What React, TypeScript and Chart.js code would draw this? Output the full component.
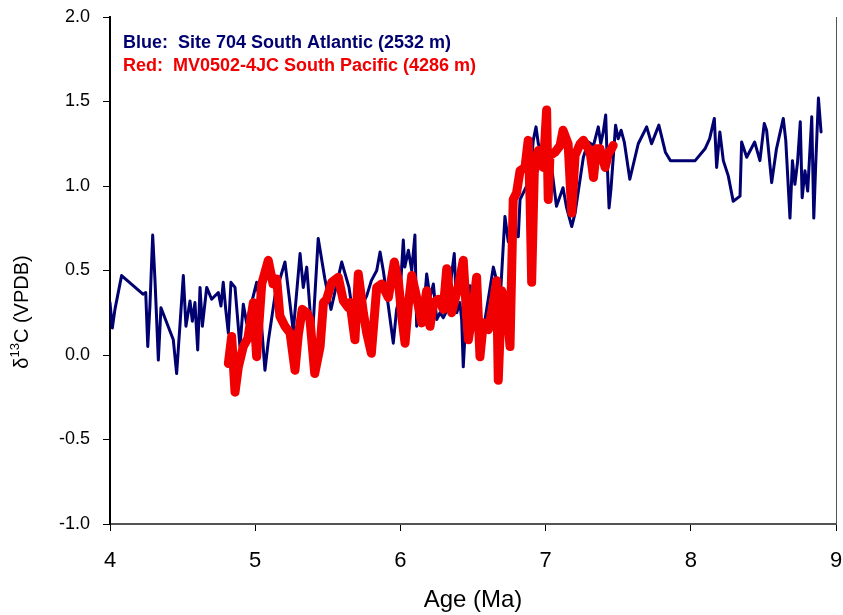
import React, { useEffect, useRef } from "react";
import { Chart, registerables } from "chart.js";

Chart.register(...registerables);

// Site 704 South Atlantic (blue)
const blueAge = [
  4.0, 4.016, 4.034, 4.08, 4.227, 4.246, 4.26, 4.275, 4.294, 4.31, 4.333, 4.351, 4.436, 4.459, 4.505,
  4.523, 4.551, 4.567, 4.585, 4.604, 4.62, 4.636, 4.666, 4.7, 4.746, 4.764, 4.78, 4.797, 4.815, 4.833,
  4.861, 4.895, 4.918, 4.941, 4.964, 5.01, 5.033, 5.067, 5.09, 5.136, 5.205, 5.24, 5.262, 5.309, 5.331,
  5.355, 5.393, 5.434, 5.48, 5.522, 5.596, 5.646, 5.665, 5.7, 5.733, 5.768, 5.8, 5.837, 5.86, 5.882,
  5.917, 5.951, 5.974, 5.997, 6.02, 6.03, 6.055, 6.078, 6.1, 6.112, 6.135, 6.158, 6.181, 6.204, 6.227,
  6.25, 6.273, 6.295, 6.33, 6.353, 6.371, 6.388, 6.41, 6.422, 6.433, 6.457, 6.48, 6.5, 6.55, 6.583,
  6.64, 6.663, 6.686, 6.72, 6.743, 6.766, 6.812, 6.824, 6.858, 6.893, 6.915, 6.934, 6.95, 6.973, 7.007,
  7.042, 7.053, 7.075, 7.12, 7.145, 7.18, 7.203, 7.26, 7.294, 7.33, 7.363, 7.38, 7.397, 7.414, 7.427,
  7.437, 7.45, 7.466, 7.482, 7.5, 7.52, 7.542, 7.58, 7.638, 7.696, 7.73, 7.78, 7.825, 7.86, 8.03,
  8.098, 8.13, 8.162, 8.178, 8.2, 8.224, 8.258, 8.292, 8.339, 8.35, 8.385, 8.44, 8.476, 8.506, 8.522,
  8.557, 8.59, 8.637, 8.654, 8.683, 8.7, 8.717, 8.735, 8.754, 8.767, 8.786, 8.805, 8.833, 8.847, 8.86,
  8.879, 8.897,
];
const blueD13C = [
  0.31, 0.16, 0.27, 0.47, 0.36, 0.37, 0.05, 0.29, 0.71, 0.44, -0.03, 0.28, 0.09, -0.11, 0.47,
  0.17, 0.32, 0.2, 0.31, 0.03, 0.4, 0.17, 0.4, 0.33, 0.37, 0.29, 0.43, 0.27, 0.13, 0.43,
  0.4, 0.05, 0.3, 0.19, 0.27, 0.43, 0.3, -0.09, 0.08, 0.35, 0.55, 0.3, 0.14, 0.6, 0.4,
  0.52, 0.09, 0.69, 0.45, 0.27, 0.55, 0.4, 0.29, 0.34, 0.29, 0.35, 0.44, 0.5, 0.61, 0.5,
  0.29, 0.07, 0.27, 0.35, 0.68, 0.52, 0.62, 0.5, 0.71, 0.17, 0.31, 0.23, 0.48, 0.34, 0.42,
  0.21, 0.25, 0.22, 0.28, 0.48, 0.6, 0.25, 0.31, 0.21, -0.07, 0.31, 0.41, 0.22, 0.11, 0.21,
  0.52, 0.44, 0.31, 0.82, 0.67, 0.73, 0.7, 0.92, 0.98, 1.04, 1.27, 1.35, 1.25, 1.19, 1.23,
  1.11, 1.03, 0.88, 0.99, 0.87, 0.76, 0.84, 1.17, 1.26, 1.24, 1.35, 1.25, 1.32, 1.42, 1.08,
  0.87, 0.98, 1.17, 1.36, 1.28, 1.33, 1.26, 1.04, 1.25, 1.35, 1.25, 1.36, 1.2, 1.15, 1.15,
  1.22, 1.28, 1.4, 1.11, 1.32, 1.15, 1.06, 0.91, 0.94, 1.26, 1.17, 1.26, 1.15, 1.37, 1.33,
  1.02, 1.22, 1.4, 1.27, 0.81, 1.15, 1.01, 1.14, 1.38, 0.93, 1.09, 0.97, 1.41, 0.81, 1.12,
  1.52, 1.32,
];

// MV0502-4JC South Pacific (red)
const redAge = [
  4.815, 4.838, 4.861, 4.884, 4.918, 4.95, 4.987, 5.01, 5.045, 5.09, 5.123, 5.148, 5.17, 5.205, 5.24,
  5.274, 5.297, 5.324, 5.355, 5.377, 5.41, 5.447, 5.47, 5.492, 5.527, 5.572, 5.607, 5.641, 5.653, 5.687,
  5.71, 5.745, 5.768, 5.8, 5.837, 5.871, 5.917, 5.958, 5.986, 6.009, 6.032, 6.054, 6.078, 6.112, 6.147,
  6.181, 6.204, 6.227, 6.261, 6.295, 6.319, 6.353, 6.4, 6.433, 6.457, 6.468, 6.49, 6.525, 6.548, 6.571,
  6.606, 6.64, 6.663, 6.674, 6.698, 6.732, 6.755, 6.777, 6.8, 6.824, 6.858, 6.88, 6.893, 6.904, 6.922,
  6.95, 6.984, 7.007, 7.018, 7.03, 7.065, 7.1, 7.12, 7.155, 7.18, 7.203, 7.238, 7.26, 7.294, 7.31,
  7.33, 7.35, 7.375, 7.41, 7.432, 7.466,
];
const redD13C = [
  -0.05, 0.11, -0.22, -0.07, 0.05, 0.1, 0.31, -0.01, 0.42, 0.56, 0.42, 0.45, 0.23, 0.17, 0.13,
  -0.09, 0.12, 0.27, 0.25, 0.21, -0.11, 0.05, 0.31, 0.33, 0.43, 0.46, 0.32, 0.28, 0.31, 0.09,
  0.48, 0.25, 0.13, 0.01, 0.4, 0.42, 0.34, 0.55, 0.44, 0.23, 0.07, 0.29, 0.47, 0.34, 0.19,
  0.38, 0.17, 0.31, 0.33, 0.27, 0.51, 0.25, 0.41, 0.56, 0.22, 0.09, 0.21, 0.46, -0.01, 0.19,
  0.15, 0.31, 0.44, -0.15, 0.38, 0.3, 0.05, 0.92, 0.96, 1.09, 1.11, 1.27, 0.92, 0.43, 1.08,
  1.21, 1.11, 1.45, 0.92, 1.18, 1.2, 1.24, 1.33, 1.25, 0.84, 1.18, 1.25, 1.27, 1.22, 1.18,
  1.05, 1.22, 1.22, 1.11, 1.19, 1.24,
];

const xTickValues = [4, 5, 6, 7, 8, 9];
const yTickValues = [-1.0, -0.5, 0.0, 0.5, 1.0, 1.5, 2.0];
const legendLines = [
  "Blue:  Site 704 South Atlantic (2532 m)",
  "Red:  MV0502-4JC South Pacific (4286 m)",
];
const xTitle = "Age (Ma)";

const BLUE = "#000070";
const RED = "#f00000";
const FONT = '"Liberation Sans", Arial, Helvetica, sans-serif';

const overlayPlugin = {
  id: "overlay",
  afterDraw(chart: any) {
    const { ctx, chartArea } = chart;
    ctx.save();
    // right frame line
    ctx.strokeStyle = "#555";
    ctx.lineWidth = 1;
    ctx.beginPath();
    ctx.moveTo(chartArea.right + 0.5, chartArea.top);
    ctx.lineTo(chartArea.right + 0.5, chartArea.bottom);
    ctx.stroke();

    // legend text
    ctx.font = `bold 18px ${FONT}`;
    ctx.textBaseline = "middle";
    ctx.textAlign = "left";
    ctx.fillStyle = BLUE;
    ctx.fillText(legendLines[0], chartArea.left + 13, chartArea.top + 26);
    ctx.fillStyle = RED;
    ctx.fillText(legendLines[1], chartArea.left + 13, chartArea.top + 49);

    // y title with superscript
    ctx.translate(chartArea.left - 88, chartArea.top + 295);
    ctx.rotate(-Math.PI / 2);
    ctx.fillStyle = "#000";
    const big = `20px ${FONT}`;
    const small = `13px ${FONT}`;
    const parts = [
      { t: "\u03b4", f: big, dy: 0 },
      { t: "13", f: small, dy: -7 },
      { t: "C (VPDB)", f: big, dy: 0 },
    ];
    let total = 0;
    for (const p of parts) {
      ctx.font = p.f;
      total += ctx.measureText(p.t).width;
    }
    let x = -total / 2;
    ctx.textBaseline = "middle";
    for (const p of parts) {
      ctx.font = p.f;
      ctx.fillText(p.t, x, p.dy);
      x += ctx.measureText(p.t).width;
    }
    ctx.restore();
  },
};

export default function App() {
  const canvasRef = useRef<HTMLCanvasElement | null>(null);

  useEffect(() => {
    document.body.style.margin = "0";
    const canvas = canvasRef.current;
    if (!canvas) return;
    const blueData = blueAge.map((a, i) => ({ x: a, y: blueD13C[i] }));
    const redData = redAge.map((a, i) => ({ x: a, y: redD13C[i] }));

    const chart = new Chart(canvas, {
      type: "scatter",
      data: {
        datasets: [
          {
            label: "Blue",
            data: blueData,
            showLine: true,
            borderColor: BLUE,
            backgroundColor: BLUE,
            borderWidth: 3,
            pointRadius: 0,
            borderJoinStyle: "round",
            borderCapStyle: "round",
            order: 1,
          },
          {
            label: "Red",
            data: redData,
            showLine: true,
            borderColor: RED,
            backgroundColor: RED,
            borderWidth: 9,
            pointRadius: 0,
            borderJoinStyle: "round",
            borderCapStyle: "round",
            order: 0,
          },
        ],
      },
      options: {
        responsive: false,
        animation: false,
        devicePixelRatio: 1,
        layout: { padding: { top: 17, right: 7, left: 0, bottom: 0 } },
        plugins: {
          legend: { display: false },
          tooltip: { enabled: false },
          title: { display: false },
        },
        scales: {
          x: {
            type: "linear",
            min: 4,
            max: 9,
            afterBuildTicks: (scale: any) => {
              scale.ticks = xTickValues.map((v) => ({ value: v }));
            },
            afterFit: (scale: any) => {
              scale.height = 91;
              scale.paddingLeft = 0;
              scale.paddingRight = 0;
            },
            ticks: {
              color: "#000",
              font: { family: FONT, size: 22 },
              padding: 17,
              callback: (v: any) => String(v),
            },
            grid: {
              drawOnChartArea: false,
              drawTicks: true,
              tickLength: 7,
              color: "#000",
            },
            border: { display: true, color: "#555", width: 2 },
            title: {
              display: true,
              text: xTitle,
              color: "#000",
              font: { family: FONT, size: 24 },
              padding: { top: 3, bottom: 0 },
            },
          },
          y: {
            type: "linear",
            min: -1,
            max: 2,
            afterBuildTicks: (scale: any) => {
              scale.ticks = yTickValues.map((v) => ({ value: v }));
            },
            afterFit: (scale: any) => {
              scale.width = 110;
              scale.paddingTop = 0;
              scale.paddingBottom = 0;
            },
            ticks: {
              color: "#000",
              font: { family: FONT, size: 18 },
              padding: 13,
              callback: (v: any) => Number(v).toFixed(1),
            },
            grid: {
              drawOnChartArea: false,
              drawTicks: true,
              tickLength: 7,
              color: "#000",
            },
            border: { display: true, color: "#000", width: 2 },
          },
        },
      },
      plugins: [overlayPlugin],
    } as any);

    return () => chart.destroy();
  }, []);

  return (
    <div style={{ width: 843, height: 615, background: "#fff" }}>
      <canvas ref={canvasRef} width={843} height={615} style={{ display: "block" }} />
    </div>
  );
}
